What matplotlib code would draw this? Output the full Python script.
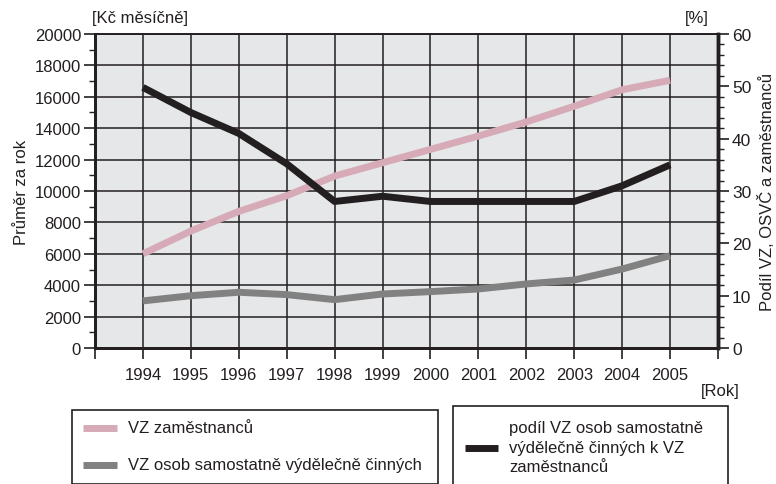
import numpy as np
import matplotlib
matplotlib.use("Agg")
from matplotlib import pyplot as plt
from matplotlib.lines import Line2D
from matplotlib.patches import Rectangle
from matplotlib.ticker import MultipleLocator

plt.rcParams['font.family'] = ['Liberation Sans Narrow', 'Liberation Sans', 'DejaVu Sans']
plt.rcParams['font.size'] = 12

years = [1994, 1995, 1996, 1997, 1998, 1999, 2000, 2001, 2002, 2003, 2004, 2005]
vz_zam = [6000, 7450, 8700, 9700, 10950, 11800, 12650, 13500, 14400, 15400, 16450, 17050]
vz_osvc = [3000, 3330, 3550, 3400, 3080, 3440, 3590, 3760, 4080, 4330, 5030, 5880]
podil = [49.8, 45.0, 41.0, 35.2, 28.0, 29.0, 28.0, 28.0, 28.0, 28.0, 31.0, 35.0]

c_pink = '#d6aab7'
c_gray = '#818181'
c_black = '#231f20'
bg = '#e6e7e8'

W, H = 776, 485
fig = plt.figure(figsize=(7.76, 4.85), dpi=100)
ax = fig.add_axes([95 / W, 1 - 349 / H, (718 - 95) / W, (349 - 35) / H])
ax.set_facecolor(bg)
ax2 = ax.twinx()

ax.set_xlim(1993, 2006)
ax.set_ylim(0, 20000)
ax2.set_ylim(0, 60)

ax.plot(years, vz_zam, color=c_pink, lw=5, solid_capstyle='butt', zorder=3)
ax.plot(years, vz_osvc, color=c_gray, lw=5, solid_capstyle='butt', zorder=3)
ax2.plot(years, podil, color=c_black, lw=5, solid_capstyle='butt', zorder=3)

# grid
ax.set_xticks(range(1993, 2007))
ax.set_xticklabels([''] + [str(y) for y in years] + [''])
ax.yaxis.set_major_locator(MultipleLocator(2000))
ax.yaxis.set_minor_locator(MultipleLocator(1000))
ax2.yaxis.set_major_locator(MultipleLocator(10))
ax2.yaxis.set_minor_locator(MultipleLocator(2))
ax.grid(True, which='major', color=c_black, lw=1.1, zorder=1)
ax.set_axisbelow(True)

ax.tick_params(axis='both', which='major', direction='out', length=8, width=1.2,
               color=c_black, labelcolor=c_black, labelsize=12, pad=2)
ax.tick_params(axis='y', which='minor', direction='out', length=4, width=1, color=c_black)
ax.tick_params(axis='x', pad=6)
ax2.tick_params(axis='y', which='major', direction='out', length=8, width=1.2,
                color=c_black, labelcolor=c_black, labelsize=12.5, pad=2)
ax2.tick_params(axis='y', which='minor', direction='out', length=4, width=1, color=c_black)

for a in (ax, ax2):
    for s in a.spines.values():
        s.set_color(c_black)
    a.spines['top'].set_linewidth(1.2)
    a.spines['left'].set_linewidth(2)
    a.spines['bottom'].set_linewidth(2)
    a.spines['right'].set_linewidth(2.5)

ax.set_ylabel('Průměr za rok', color=c_black, labelpad=4)
ax2.set_ylabel('Podíl VZ, OSVČ a zaměstnanců', color=c_black, labelpad=5)

fig.text(92 / W, 1 - 19 / H, '[Kč měsíčně]', ha='left', va='center', color=c_black)
fig.text(709 / W, 1 - 19 / H, '[%]', ha='right', va='center', color=c_black)
fig.text(740 / W, 1 - 392 / H, '[Rok]', ha='right', va='center', color=c_black)

# legend boxes
fig.patches.append(Rectangle((72 / W, 0), (438 - 72) / W, 1 - 411 / H, transform=fig.transFigure,
                             fill=False, edgecolor=c_black, lw=1.2))
fig.patches.append(Rectangle((453 / W, -0.01), (728 - 453) / W, 1 - 407 / H + 0.01,
                             transform=fig.transFigure, fill=False, edgecolor=c_black, lw=1.2))

fig.lines.append(Line2D([83 / W, 117 / W], [1 - 429 / H] * 2, transform=fig.transFigure,
                        color=c_pink, lw=5, solid_capstyle='butt'))
fig.text(128 / W, 1 - 429 / H, 'VZ zaměstnanců', va='center', color=c_black)
fig.lines.append(Line2D([83 / W, 117 / W], [1 - 466 / H] * 2, transform=fig.transFigure,
                        color=c_gray, lw=5, solid_capstyle='butt'))
fig.text(128 / W, 1 - 466 / H, 'VZ osob samostatně výdělečně činných', va='center', color=c_black)

fig.lines.append(Line2D([465 / W, 498 / W], [1 - 449 / H] * 2, transform=fig.transFigure,
                        color=c_black, lw=5, solid_capstyle='butt'))
fig.text(509 / W, 1 - 448 / H, 'podíl VZ osob samostatně\nvýdělečně činných k VZ\nzaměstnanců',
         va='center', color=c_black, linespacing=1.35)

fig.savefig('out.png', dpi=100)
